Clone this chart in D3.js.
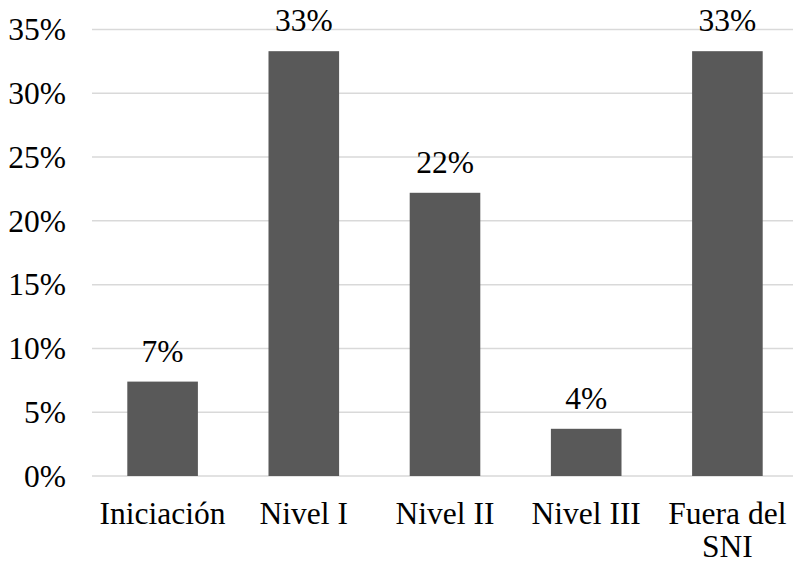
<!DOCTYPE html>
<html><head><meta charset="utf-8">
<script src="https://cdn.jsdelivr.net/npm/d3@7"></script>
</head><body style="margin:0">
<svg id="chart" width="793" height="565" style="display:block"></svg>
<script>
const categories = ["Iniciación", "Nivel I", "Nivel II", "Nivel III", "Fuera del SNI"];
const values = [0.074, 0.333, 0.222, 0.037, 0.333];
const yTicks = [0, 0.05, 0.10, 0.15, 0.20, 0.25, 0.30, 0.35];

const svg = d3.select("#chart");
const fs = 31.5;

const x = d3.scaleBand().domain(categories).range([92, 798]).paddingInner(0.5).paddingOuter(0.25);
const y = d3.scaleLinear().domain([0, 0.35]).range([476, 29.5]);

function styleText(sel) {
  return sel.attr("font-family", "Times New Roman")
    .style("font-family", '"Times New Roman", "Liberation Serif", serif')
    .attr("font-size", fs).attr("fill", "#000");
}

// gridlines
svg.append("g").selectAll("line").data(yTicks).join("line")
  .attr("x1", 92).attr("x2", 793)
  .attr("y1", d => y(d)).attr("y2", d => y(d))
  .attr("stroke", "#d9d9d9").attr("stroke-width", 1.5);

// y axis labels
styleText(svg.selectAll("text.ytick").data(yTicks).join("text").attr("class", "ytick")
  .attr("x", 66).attr("y", d => y(d)).attr("dy", "0.34em")
  .attr("text-anchor", "end"))
  .text(d => d3.format(".0%")(d));

// bars
svg.append("g").selectAll("rect").data(values).join("rect")
  .attr("x", (d, i) => x(categories[i]))
  .attr("width", x.bandwidth())
  .attr("y", d => y(d))
  .attr("height", d => y(0) - y(d))
  .attr("fill", "#595959");

// value labels
styleText(svg.selectAll("text.vlabel").data(values).join("text").attr("class", "vlabel")
  .attr("x", (d, i) => x(categories[i]) + x.bandwidth() / 2)
  .attr("y", d => y(d) - 20)
  .attr("text-anchor", "middle"))
  .text(d => d3.format(".0%")(d));

// x labels (with wrapping)
const wrap = { "Fuera del SNI": ["Fuera del", "SNI"] };
const xl = styleText(svg.selectAll("text.xlabel").data(categories).join("text").attr("class", "xlabel")
  .attr("x", d => x(d) + x.bandwidth() / 2)
  .attr("y", 524)
  .attr("text-anchor", "middle"));
xl.each(function(d) {
  const lines = wrap[d] || [d];
  const t = d3.select(this);
  lines.forEach((ln, i) => {
    t.append("tspan").attr("x", x(d) + x.bandwidth() / 2).attr("dy", i === 0 ? 0 : 33).text(ln);
  });
});
</script>
</body></html>
